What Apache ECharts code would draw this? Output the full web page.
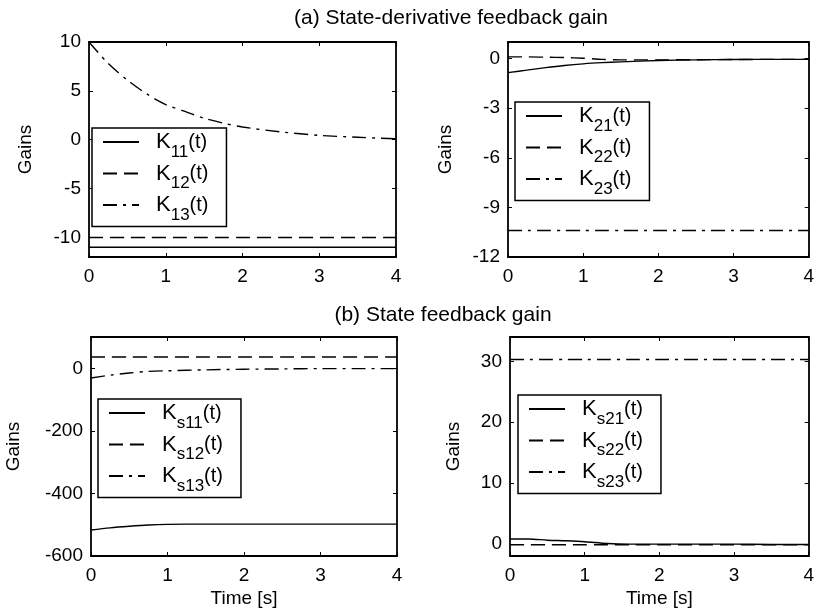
<!DOCTYPE html>
<html>
<head>
<meta charset="utf-8">
<script src="https://cdn.jsdelivr.net/npm/echarts@6/dist/echarts.min.js"></script>
<style>
html,body{margin:0;padding:0;background:#fff;}
#c{width:817px;height:614px;}
</style>
</head>
<body>
<div id="c"></div>
<script>
// ---------- data ----------
const titleA = '(a) State-derivative feedback gain';
const titleB = '(b) State feedback gain';
const yLabel = 'Gains';
const xLabel = 'Time [s]';

const xTicks = [0, 1, 2, 3, 4];

// panel (a) left
const tA1 = [0, 0.25, 0.5, 0.75, 1, 1.25, 1.5, 1.75, 2, 2.5, 3, 3.5, 4];
const K11 = [-11, -11, -11, -11, -11, -11, -11, -11, -11, -11, -11, -11, -11];
const K12 = [-10, -10, -10, -10, -10, -10, -10, -10, -10, -10, -10, -10, -10];
const K13 = [10, 7.8, 6.1, 4.7, 3.6, 2.9, 2.2, 1.7, 1.3, 0.8, 0.45, 0.25, 0.1];
const yTicksA1 = [-10, -5, 0, 5, 10];

// panel (a) right
const tA2 = [0, 0.25, 0.5, 0.75, 1, 1.25, 1.5, 2, 2.5, 3, 3.5, 4];
const K21 = [-0.85, -0.7, -0.55, -0.42, -0.32, -0.25, -0.2, -0.12, -0.08, -0.06, -0.05, -0.05];
const K22 = [0.1, 0.1, 0.08, 0.06, 0.02, -0.05, -0.08, -0.08, -0.07, -0.06, -0.05, -0.05];
const K23 = [-10.4, -10.4, -10.4, -10.4, -10.4, -10.4, -10.4, -10.4, -10.4, -10.4, -10.4, -10.4];
const yTicksA2 = [-12, -9, -6, -3, 0];

// panel (b) left
const tB1 = [0, 0.25, 0.5, 0.75, 1, 1.5, 2, 2.5, 3, 3.5, 4];
const Ks11 = [-517, -510, -505, -501, -499, -498, -498, -498, -498, -498, -498];
const Ks12 = [36, 36, 36, 36, 36, 36, 36, 36, 36, 36, 36];
const Ks13 = [-31, -22, -15, -10, -8, -5, -3, -2, -1, -1, -1];
const yTicksB1 = [-600, -400, -200, 0];

// panel (b) right
const tB2 = [0, 0.25, 0.5, 0.75, 1, 1.3, 1.6, 2, 2.5, 3, 3.5, 4];
const Ks21 = [0.8, 0.8, 0.6, 0.5, 0.35, 0.05, -0.05, -0.05, -0.05, -0.05, -0.1, -0.1];
const Ks22 = [-0.15, -0.15, -0.15, -0.15, -0.15, -0.15, -0.15, -0.15, -0.15, -0.15, -0.15, -0.15];
const Ks23 = [30.3, 30.3, 30.3, 30.3, 30.3, 30.3, 30.3, 30.3, 30.3, 30.3, 30.3, 30.3];
const yTicksB2 = [0, 10, 20, 30];

// ---------- build ----------
const FONT = 'Liberation Sans, Arial, sans-serif';
const pairs = (t, v) => t.map((x, i) => [x, v[i]]);

const grids = [
  {left: 89, top: 42, width: 307, height: 215},
  {left: 508, top: 42, width: 301, height: 215},
  {left: 91, top: 337, width: 306, height: 219},
  {left: 510, top: 337, width: 304, height: 219}
];
const yRanges = [[-12, 10], [-12, 1], [-600, 100], [-2, 34]];
const yTickSets = [yTicksA1, yTicksA2, yTicksB1, yTicksB2];
const nameGapsY = [54, 53, 68, 47];

const xAxes = [], yAxes = [];
grids.forEach((g, i) => {
  const bottom = i >= 2;
  xAxes.push({
    gridIndex: i, type: 'value', min: 0, max: 4, position: 'bottom',
    axisLine: {show: true, onZero: false, lineStyle: {color: '#000', width: 1.8}},
    axisTick: {show: true, inside: true, length: 4, lineStyle: {color: '#000'}, customValues: xTicks},
    axisLabel: {color: '#000', fontFamily: FONT, fontSize: 19, margin: 10, customValues: xTicks},
    splitLine: {show: false},
    name: bottom ? xLabel : '', nameLocation: 'middle', nameGap: 33,
    nameTextStyle: {color: '#000', fontFamily: FONT, fontSize: 19}
  });
  xAxes.push({
    gridIndex: i, type: 'value', min: 0, max: 4, position: 'top',
    axisLine: {show: true, onZero: false, lineStyle: {color: '#000', width: 1.8}},
    axisTick: {show: true, inside: true, length: 4, lineStyle: {color: '#000'}, customValues: xTicks},
    axisLabel: {show: false}, splitLine: {show: false}
  });
  const yr = yRanges[i];
  yAxes.push({
    gridIndex: i, type: 'value', min: yr[0], max: yr[1], position: 'left',
    axisLine: {show: true, onZero: false, lineStyle: {color: '#000', width: 1.8}},
    axisTick: {show: true, inside: true, length: 4, lineStyle: {color: '#000'}, customValues: yTickSets[i]},
    axisLabel: {color: '#000', fontFamily: FONT, fontSize: 19, margin: 8, customValues: yTickSets[i]},
    splitLine: {show: false},
    name: yLabel, nameLocation: 'middle', nameGap: nameGapsY[i],
    nameTextStyle: {color: '#000', fontFamily: FONT, fontSize: 19}
  });
  yAxes.push({
    gridIndex: i, type: 'value', min: yr[0], max: yr[1], position: 'right',
    axisLine: {show: true, onZero: false, lineStyle: {color: '#000', width: 1.8}},
    axisTick: {show: true, inside: true, length: 4, lineStyle: {color: '#000'}, customValues: yTickSets[i]},
    axisLabel: {show: false}, splitLine: {show: false}
  });
});

const SOLID = 'solid';
const DASH = [14, 7];
const DASHDOT = [14, 6, 3, 6];

const seriesDefs = [
  {name: 'K11(t)', g: 0, t: tA1, v: K11, type: SOLID},
  {name: 'K12(t)', g: 0, t: tA1, v: K12, type: DASH},
  {name: 'K13(t)', g: 0, t: tA1, v: K13, type: DASHDOT},
  {name: 'K21(t)', g: 1, t: tA2, v: K21, type: SOLID},
  {name: 'K22(t)', g: 1, t: tA2, v: K22, type: DASH},
  {name: 'K23(t)', g: 1, t: tA2, v: K23, type: DASHDOT},
  {name: 'Ks11(t)', g: 2, t: tB1, v: Ks11, type: SOLID},
  {name: 'Ks12(t)', g: 2, t: tB1, v: Ks12, type: DASH},
  {name: 'Ks13(t)', g: 2, t: tB1, v: Ks13, type: DASHDOT},
  {name: 'Ks21(t)', g: 3, t: tB2, v: Ks21, type: SOLID},
  {name: 'Ks22(t)', g: 3, t: tB2, v: Ks22, type: DASH},
  {name: 'Ks23(t)', g: 3, t: tB2, v: Ks23, type: DASHDOT}
];

const series = seriesDefs.map(d => ({
  name: d.name, type: 'line', xAxisIndex: d.g * 2, yAxisIndex: d.g * 2,
  data: pairs(d.t, d.v), symbol: 'none', showSymbol: false, smooth: 0.3, animation: false,
  lineStyle: {color: '#000', width: 1.4, type: d.type},
  itemStyle: {color: '#000'}
}));

const rich = {
  k: {fontFamily: FONT, fontSize: 22, color: '#000', padding: [0, 0, 0, 12]},
  s: {fontFamily: FONT, fontSize: 17, color: '#000', padding: [20, 0, 0, 0]},
  p: {fontFamily: FONT, fontSize: 20, color: '#000'}
};
function legendFmt(name) {
  const sub = name.slice(1, name.length - 3);
  return '{k|K}{s|' + sub + '}{p|(t)}';
}
const legendPos = [
  {left: 92, top: 128},
  {left: 515, top: 102},
  {left: 98, top: 399},
  {left: 518, top: 395}
];
const legends = legendPos.map((p, i) => ({
  left: p.left, top: p.top, orient: 'vertical',
  data: seriesDefs.filter(d => d.g === i).map(d => d.name),
  backgroundColor: '#fff', borderColor: '#000', borderWidth: 1.5,
  padding: [3, 18, 3, 10], itemGap: 2, itemWidth: 36, itemHeight: 14,
  selectedMode: false,
  itemStyle: {opacity: 0},
  formatter: legendFmt,
  textStyle: {color: '#000', rich: rich}
}));

const chart = echarts.init(document.getElementById('c'), null, {renderer: 'canvas'});
chart.setOption({
  animation: false,
  backgroundColor: '#fff',
  title: [
    {text: titleA, left: 446, top: 3, textAlign: 'center', textStyle: {fontFamily: FONT, fontSize: 21, fontWeight: 'normal', color: '#000'}},
    {text: titleB, left: 438, top: 300, textAlign: 'center', textStyle: {fontFamily: FONT, fontSize: 21, fontWeight: 'normal', color: '#000'}}
  ],
  grid: grids.map(g => Object.assign({show: false, containLabel: false}, g)),
  xAxis: xAxes,
  yAxis: yAxes,
  legend: legends,
  series: series
});
</script>
</body>
</html>
